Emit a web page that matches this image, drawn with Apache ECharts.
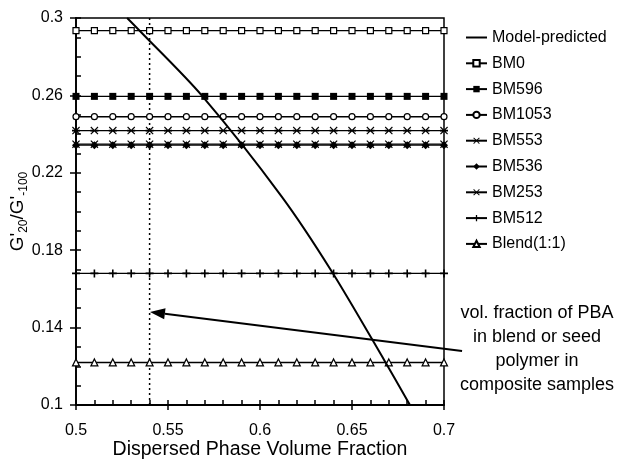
<!DOCTYPE html>
<html>
<head>
<meta charset="utf-8">
<script src="https://cdn.jsdelivr.net/npm/echarts@6/dist/echarts.min.js"></script>
<style>html,body{margin:0;padding:0;background:#fff;}#c{width:618px;height:460px;}</style>
</head>
<body>
<div id="c"></div>
<script>
// ---- data ----
const XS = [0.50,0.51,0.52,0.53,0.54,0.55,0.56,0.57,0.58,0.59,0.60,0.61,0.62,0.63,0.64,0.65,0.66,0.67,0.68,0.69,0.70];
const BM0    = [0.2935,0.2935,0.2935,0.2935,0.2935,0.2935,0.2935,0.2935,0.2935,0.2935,0.2935,0.2935,0.2935,0.2935,0.2935,0.2935,0.2935,0.2935,0.2935,0.2935,0.2935];
const BM596  = [0.2595,0.2595,0.2595,0.2595,0.2595,0.2595,0.2595,0.2595,0.2595,0.2595,0.2595,0.2595,0.2595,0.2595,0.2595,0.2595,0.2595,0.2595,0.2595,0.2595,0.2595];
const BM1053 = [0.249,0.249,0.249,0.249,0.249,0.249,0.249,0.249,0.249,0.249,0.249,0.249,0.249,0.249,0.249,0.249,0.249,0.249,0.249,0.249,0.249];
const BM553  = [0.2418,0.2418,0.2418,0.2418,0.2418,0.2418,0.2418,0.2418,0.2418,0.2418,0.2418,0.2418,0.2418,0.2418,0.2418,0.2418,0.2418,0.2418,0.2418,0.2418,0.2418];
const BM536  = [0.2343,0.2343,0.2343,0.2343,0.2343,0.2343,0.2343,0.2343,0.2343,0.2343,0.2343,0.2343,0.2343,0.2343,0.2343,0.2343,0.2343,0.2343,0.2343,0.2343,0.2343];
const BM253  = [0.2348,0.2348,0.2348,0.2348,0.2348,0.2348,0.2348,0.2348,0.2348,0.2348,0.2348,0.2348,0.2348,0.2348,0.2348,0.2348,0.2348,0.2348,0.2348,0.2348,0.2348];
const BM512  = [0.168,0.168,0.168,0.168,0.168,0.168,0.168,0.168,0.168,0.168,0.168,0.168,0.168,0.168,0.168,0.168,0.168,0.168,0.168,0.168,0.168];
const BLEND  = [0.122,0.122,0.122,0.122,0.122,0.122,0.122,0.122,0.122,0.122,0.122,0.122,0.122,0.122,0.122,0.122,0.122,0.122,0.122,0.122,0.122];
const MODEL_X = [0.5278, 0.5346, 0.5683, 0.6118, 0.639, 0.668, 0.6815];
const MODEL_Y = [0.300, 0.2934, 0.2600, 0.2077, 0.169, 0.1224, 0.100];
const VLINE_X = [0.54, 0.54];
const VLINE_Y = [0.10, 0.30];
const ARROW_FROM = [0.7098, 0.1279];
const ARROW_TO = [0.5402, 0.1481];
const X_TICKS = { min: 0.5, max: 0.7, interval: 0.05 };
const Y_TICKS = { min: 0.1, max: 0.3, interval: 0.04 };
const NOTE = ['vol. fraction of PBA', 'in blend or seed', 'polymer in', 'composite samples'];

// ---- symbols ----
const PLUS = 'path://M4,0H6V4H10V6H6V10H4V6H0V4H4Z';
const XMARK = 'path://M0,1L1,0L5,4L9,0L10,1L6,5L10,9L9,10L5,6L1,10L0,9L4,5Z';
const STAR = 'path://M0,1L1,0L5,4L9,0L10,1L6,5L10,9L9,10L5,6L1,10L0,9L4,5Z M0,4H10V6H0Z';
const LINE_ICON = 'path://M0,0H21V2H0Z';

const FONT = 'Liberation Sans, Arial, sans-serif';
const pair = (xs, ys) => xs.map((x, i) => [x, ys[i]]);

function flat(name, ys, symbol, size, open) {
  return {
    name, type: 'line', data: pair(XS, ys), symbol, symbolSize: size,
    showAllSymbol: true,
    lineStyle: { color: '#000', width: 1.4 },
    itemStyle: open ? { color: '#fff', borderColor: '#000', borderWidth: 1.2 } : { color: '#000', borderColor: '#000', borderWidth: 0 },
    z: 3, animation: false
  };
}

const chart = echarts.init(document.getElementById('c'), null, { renderer: 'canvas' });

const fmt = v => String(+(+v).toFixed(2));

const option = {
  animation: false,
  backgroundColor: '#fff',
  textStyle: { fontFamily: FONT },
  grid: { left: 76, right: 174, top: 18, bottom: 55, show: true, borderColor: '#000', borderWidth: 1.5, containLabel: false, outerBoundsMode: 'none' },
  legend: {
    orient: 'vertical', left: 460, top: 24.5,
    itemWidth: 21, itemHeight: 8, itemGap: 9.8,
    textStyle: { fontSize: 16, color: '#000', fontFamily: FONT, lineHeight: 16 },
    data: [{ name: 'Model-predicted', icon: LINE_ICON }, 'BM0', 'BM596', 'BM1053', 'BM553', 'BM536', 'BM253', 'BM512', 'Blend(1:1)']
  },
  xAxis: [
    {
      type: 'value', position: 'bottom', min: X_TICKS.min, max: X_TICKS.max, interval: X_TICKS.interval,
      axisLine: { show: true, lineStyle: { color: '#000', width: 1.8 } },
      axisTick: { show: true, inside: true, length: 5, lineStyle: { color: '#000', width: 1.5 } },
      minorTick: { show: true, splitNumber: 5, length: 5, lineStyle: { color: '#000', width: 1.5 } },
      splitLine: { show: false },
      axisLabel: { margin: 18, fontSize: 16, color: '#000', fontFamily: FONT, formatter: fmt },
      name: 'Dispersed Phase Volume Fraction', nameLocation: 'middle', nameGap: 35, nameMoveOverlap: false,
      nameTextStyle: { fontSize: 19.5, color: '#000', fontFamily: FONT }
    },
    {
      type: 'value', position: 'bottom', min: X_TICKS.min, max: X_TICKS.max, interval: X_TICKS.interval,
      axisLine: { show: false },
      axisTick: { show: true, inside: false, length: 5, lineStyle: { color: '#000', width: 1.5 } },
      splitLine: { show: false }, axisLabel: { show: false }
    }
  ],
  yAxis: [
    {
      type: 'value', position: 'left', min: Y_TICKS.min, max: Y_TICKS.max, interval: Y_TICKS.interval,
      axisLine: { show: true, lineStyle: { color: '#000', width: 1.8 } },
      axisTick: { show: true, inside: true, length: 5, lineStyle: { color: '#000', width: 1.5 } },
      minorTick: { show: true, splitNumber: 4, length: 5, lineStyle: { color: '#000', width: 1.5 } },
      splitLine: { show: false },
      axisLabel: { margin: 13, fontSize: 16, color: '#000', fontFamily: FONT, formatter: fmt },
      name: "{g|G'}{s|20}{g|/G'}{s|-100}", nameLocation: 'middle', nameGap: 46, nameRotate: 90, nameMoveOverlap: false,
      nameTextStyle: {
        color: '#000', fontFamily: FONT,
        rich: {
          g: { fontSize: 19, lineHeight: 24, color: '#000', fontFamily: FONT, verticalAlign: 'middle' },
          s: { fontSize: 12, lineHeight: 24, color: '#000', fontFamily: FONT, verticalAlign: 'bottom' }
        }
      }
    },
    {
      type: 'value', position: 'left', min: Y_TICKS.min, max: Y_TICKS.max, interval: Y_TICKS.interval,
      axisLine: { show: false },
      axisTick: { show: true, inside: false, length: 6, lineStyle: { color: '#000', width: 1.5 } },
      splitLine: { show: false }, axisLabel: { show: false }
    }
  ],
  graphic: NOTE.map((t, i) => ({
    type: 'text', x: 537, y: 313 + i * 24, silent: true,
    style: { text: t, textAlign: 'center', textVerticalAlign: 'middle', fontSize: 18, fontFamily: FONT, fill: '#000' }
  })),
  series: [
    {
      name: 'Model-predicted', type: 'line', data: pair(MODEL_X, MODEL_Y), symbol: 'none', smooth: 0.3,
      lineStyle: { color: '#000', width: 2 }, itemStyle: { color: '#000' }, z: 4
    },
    flat('BM0', BM0, 'rect', 6, true),
    flat('BM596', BM596, 'rect', 7, false),
    flat('BM1053', BM1053, 'circle', 6, true),
    flat('BM553', BM553, STAR, 8, false),
    flat('BM536', BM536, 'diamond', 8, false),
    flat('BM253', BM253, XMARK, 8, false),
    flat('BM512', BM512, PLUS, 8, false),
    flat('Blend(1:1)', BLEND, 'triangle', 7, true),
    {
      name: 'vline', type: 'line', data: pair(VLINE_X, VLINE_Y), symbol: 'none',
      lineStyle: { color: '#000', width: 1.5, type: [2, 3] }, z: 2, silent: true
    },
    {
      name: 'arrow', type: 'custom', clip: false, silent: true, z: 5,
      data: [[ARROW_FROM[0], ARROW_FROM[1], ARROW_TO[0], ARROW_TO[1]]],
      renderItem: (params, api) => {
        const p0 = api.coord([api.value(0), api.value(1)]);
        const p1 = api.coord([api.value(2), api.value(3)]);
        const dx = p1[0] - p0[0], dy = p1[1] - p0[1];
        const L = Math.hypot(dx, dy), ux = dx / L, uy = dy / L;
        const head = 15, half = 5.5;
        const bx = p1[0] - ux * head, by = p1[1] - uy * head;
        return {
          type: 'group', children: [
            { type: 'line', shape: { x1: p0[0], y1: p0[1], x2: bx, y2: by }, style: { stroke: '#000', lineWidth: 2 } },
            { type: 'polygon', shape: { points: [[p1[0], p1[1]], [bx - uy * half, by + ux * half], [bx + uy * half, by - ux * half]] }, style: { fill: '#000' } }
          ]
        };
      }
    }
  ]
};
chart.setOption(option);
</script>
</body>
</html>
